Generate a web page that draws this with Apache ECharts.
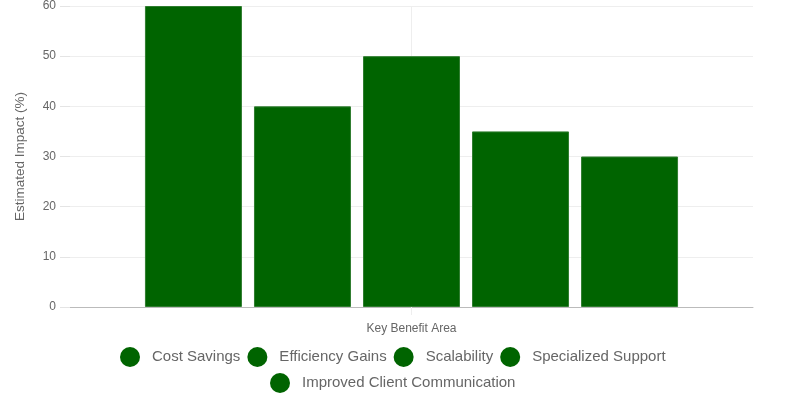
<!DOCTYPE html>
<html>
<head>
<meta charset="utf-8">
<script src="https://cdn.jsdelivr.net/npm/echarts@6/dist/echarts.min.js"></script>
<style>
html,body{margin:0;padding:0;background:#fff;}
#chart{width:800px;height:400px;}
</style>
</head>
<body>
<div id="chart"></div>
<script>
var categories = ['Key Benefit Area'];          // single category, hidden label
var seriesNames = ['Cost Savings', 'Efficiency Gains', 'Scalability', 'Specialized Support', 'Improved Client Communication'];
var seriesValues = [60, 40, 50, 35, 30];        // Estimated Impact (%)
var yTicks = {min: 0, max: 60, interval: 10};

var barColor = '#006400';
var gridColor = '#eeeeee';

var myChart = echarts.init(document.getElementById('chart'));

var series = [];
for (var i = 0; i < seriesNames.length; i++) {
    series.push({
        name: seriesNames[i],
        type: 'bar',
        barWidth: 97,
        barGap: '12.4%',
        itemStyle: {
            color: barColor,
            borderColor: '#2f7d2f',
            borderWidth: 1
        },
        data: [seriesValues[i]]
    });
}

var legendText = {color: '#666', fontSize: 15, fontFamily: 'Liberation Sans', padding: [0, 0, 0, 7]};

var option = {
    animation: false,
    textStyle: {fontFamily: 'Liberation Sans'},
    grid: {
        left: 70,
        right: 47,
        top: 6,
        bottom: 93
    },
    legend: [
        {
            data: seriesNames.slice(0, 4),
            top: 342,
            left: 115,
            icon: 'circle',
            itemWidth: 20,
            itemHeight: 20,
            itemGap: 7,
            itemStyle: {borderWidth: 0},
            textStyle: legendText
        },
        {
            data: seriesNames.slice(4),
            top: 368,
            left: 265,
            icon: 'circle',
            itemWidth: 20,
            itemHeight: 20,
            itemGap: 7,
            itemStyle: {borderWidth: 0},
            textStyle: legendText
        }
    ],
    xAxis: [
        {
            type: 'category',
            data: categories,
            name: 'Key Benefit Area',
            nameLocation: 'middle',
            nameGap: 16,
            nameTextStyle: {color: '#666', fontSize: 12},
            axisLine: {lineStyle: {color: '#bbbbbb'}},
            axisTick: {show: true, alignWithLabel: true, length: 8, lineStyle: {color: gridColor}},
            axisLabel: {show: false},
            splitLine: {show: false}
        },
        {
            // hidden helper axis: draws the vertical grid line at the category centre
            type: 'value',
            position: 'bottom',
            min: 0,
            max: 2,
            interval: 1,
            axisLine: {show: false},
            axisTick: {show: false},
            axisLabel: {show: false},
            splitLine: {show: true, showMinLine: false, showMaxLine: false, lineStyle: {color: gridColor}}
        }
    ],
    yAxis: {
        type: 'value',
        min: yTicks.min,
        max: yTicks.max,
        interval: yTicks.interval,
        name: 'Estimated Impact (%)',
        nameLocation: 'middle',
        nameGap: 43,
        nameTextStyle: {color: '#666', fontSize: 13.5},
        axisLine: {show: false},
        axisTick: {show: true, length: 10, lineStyle: {color: '#e4e4e4'}},
        axisLabel: {color: '#666', fontSize: 12, margin: 14},
        splitLine: {show: true, lineStyle: {color: gridColor}}
    },
    series: series
};

myChart.setOption(option);
</script>
</body>
</html>
